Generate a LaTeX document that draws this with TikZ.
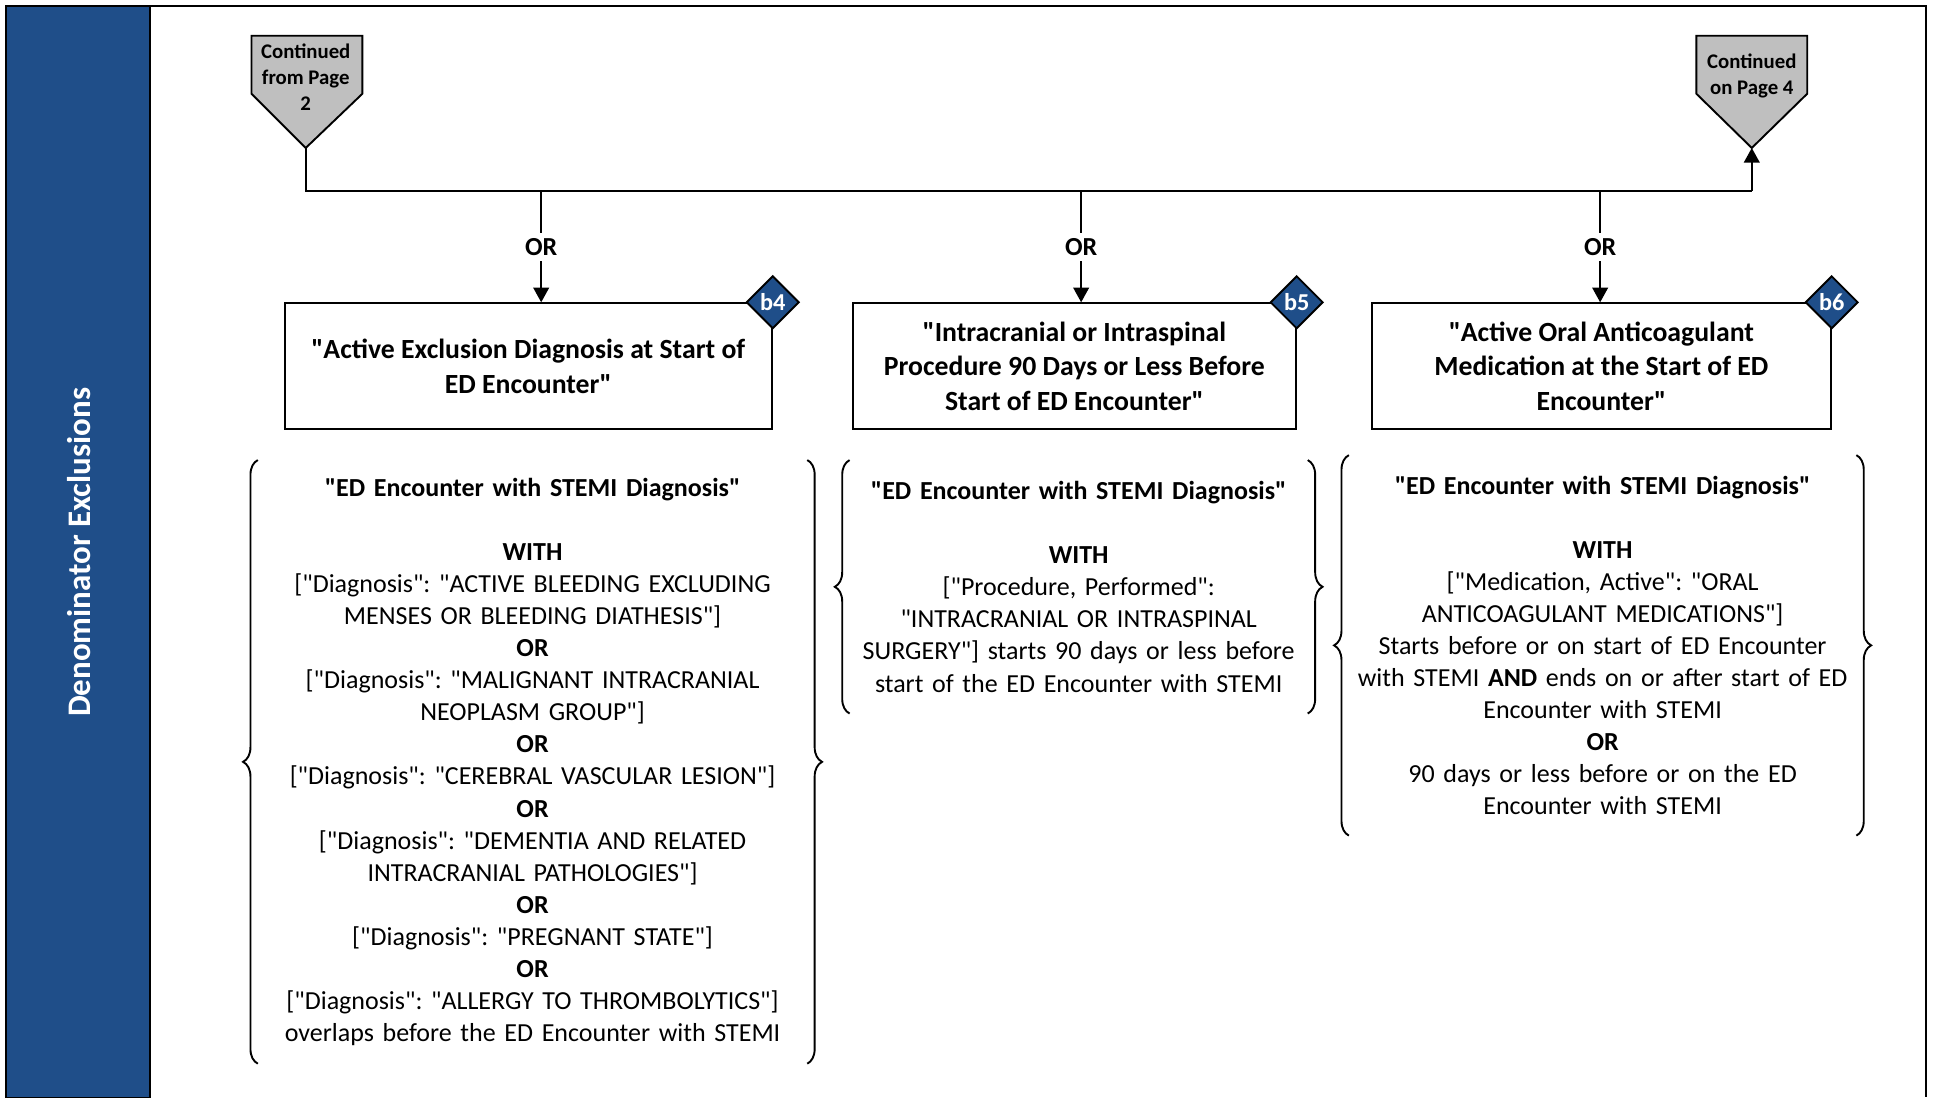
\documentclass[tikz,border=0pt]{standalone}
\usepackage{fontspec}
\setmainfont{Carlito}[Ligatures=TeXOff]
\usetikzlibrary{arrows.meta,shapes.geometric,decorations.pathreplacing}
\definecolor{bandblue}{RGB}{31,78,137}
\frenchspacing

\begin{document}
\begin{tikzpicture}[x=0.025cm,y=-0.025cm,>={Triangle[length=0.3cm,width=0.32cm]},line width=1.1pt,
  crit box/.style={rectangle,draw,fill=white,align=center,minimum height=2.55cm,inner sep=2pt,font=\fontsize{16}{20}\selectfont\bfseries},
  tag/.style={diamond,draw,fill=bandblue,text=white,inner sep=0pt,minimum size=1.07cm,font=\fontsize{14}{16}\selectfont\bfseries},
  logic/.style={align=center,inner sep=0pt,font=\fontsize{15}{18.5}\selectfont},
  brace/.style={decorate,decoration={brace,amplitude=0.3cm}},
  page/.style={align=center,inner sep=0pt,font=\fontsize{12}{15}\selectfont\bfseries}]
  \useasboundingbox (0,0) rectangle (1568,890);

  % frame and side band
  \draw (5,890) -- (5,5) -- (1562,5) -- (1562,890);
  \filldraw[fill=bandblue] (5,5) rectangle (122,891);
  \node[rotate=90,text=white,font=\fontsize{19}{22}\selectfont\bfseries] (band) at (64,448) {Denominator Exclusions};

  % off-page connectors
  \filldraw[fill=gray!50] (204,29) -- (294,29) -- (294,76) -- (248,120) -- (204,76) -- cycle;
  \node[page] (c2) at (248,63) {Continued\\from Page\\2};
  \filldraw[fill=gray!50] (1376,29) -- (1466,29) -- (1466,76) -- (1421,120) -- (1376,76) -- cycle;
  \node[page] (c4) at (1421,62) {Continued\\on Page 4};
  \coordinate (p2) at (248,120);
  \coordinate (p4) at (1421,120);

  \coordinate (hl) at (248,155);
  \coordinate (hr) at (1421,155);
  \coordinate (j4) at (439,155);
  \coordinate (j5) at (877,155);
  \coordinate (j6) at (1298,155);

  % criteria boxes
  \node[crit box,minimum width=9.875cm] (b4) at (428.5,297) {"Active Exclusion Diagnosis at Start of\\ED Encounter"};
  \node[crit box,minimum width=8.975cm] (b5) at (871.5,297) {"Intracranial or Intraspinal\\Procedure 90 Days or Less Before\\Start of ED Encounter"};
  \node[crit box,minimum width=9.3cm] (b6) at (1299,297) {"Active Oral Anticoagulant\\Medication at the Start of ED\\Encounter"};
  \node[tag] (d4) at (b4.north east) {b4};
  \node[tag] (d5) at (b5.north east) {b5};
  \node[tag] (d6) at (b6.north east) {b6};

  % logic under each box
  \node[logic,text width=11.1cm,minimum height=12.2cm] (t4) at (432,618) {\textbf{"ED Encounter with STEMI Diagnosis"}\\~\\\textbf{WITH}\\
    {[}"Diagnosis": "ACTIVE BLEEDING EXCLUDING\\MENSES OR BLEEDING DIATHESIS"]\\\textbf{OR}\\
    {[}"Diagnosis": "MALIGNANT INTRACRANIAL\\NEOPLASM GROUP"]\\\textbf{OR}\\
    {[}"Diagnosis": "CEREBRAL VASCULAR LESION"]\\\textbf{OR}\\
    {[}"Diagnosis": "DEMENTIA AND RELATED\\INTRACRANIAL PATHOLOGIES"]\\\textbf{OR}\\
    {[}"Diagnosis": "PREGNANT STATE"]\\\textbf{OR}\\
    {[}"Diagnosis": "ALLERGY TO THROMBOLYTICS"]\\overlaps before the ED Encounter with STEMI};
  \node[logic,text width=9.25cm,minimum height=5.1cm] (t5) at (875,476) {\textbf{"ED Encounter with STEMI Diagnosis"}\\~\\\textbf{WITH}\\
    {[}"Procedure, Performed":\\"INTRACRANIAL OR INTRASPINAL\\SURGERY"] starts 90 days or less before\\start of the ED Encounter with STEMI};
  \node[logic,text width=10.25cm,minimum height=7.675cm] (t6) at (1300,523.5) {\textbf{"ED Encounter with STEMI Diagnosis"}\\~\\\textbf{WITH}\\
    {[}"Medication, Active": "ORAL\\ANTICOAGULANT MEDICATIONS"]\\Starts before or on start of ED Encounter\\with STEMI \textbf{AND} ends on or after start of ED\\Encounter with STEMI\\\textbf{OR}\\
    90 days or less before or on the ED\\Encounter with STEMI};

  \draw[brace] (t4.south west) -- (t4.north west);
  \draw[brace] (t4.north east) -- (t4.south east);
  \draw[brace] (t5.south west) -- (t5.north west);
  \draw[brace] (t5.north east) -- (t5.south east);
  \draw[brace] (t6.south west) -- (t6.north west);
  \draw[brace] (t6.north east) -- (t6.south east);

  % connectors
  \draw (p2) -- (hl) -- (hr);
  \path[->,every node/.style={fill=white,inner sep=3pt,font=\fontsize{15}{18}\selectfont\bfseries}]
    (hr) edge (p4)
    (j4) edge node {OR} (j4 |- b4.north)
    (j5) edge node {OR} (j5 |- b5.north)
    (j6) edge node {OR} (j6 |- b6.north)
  ;
\end{tikzpicture}
\end{document}
